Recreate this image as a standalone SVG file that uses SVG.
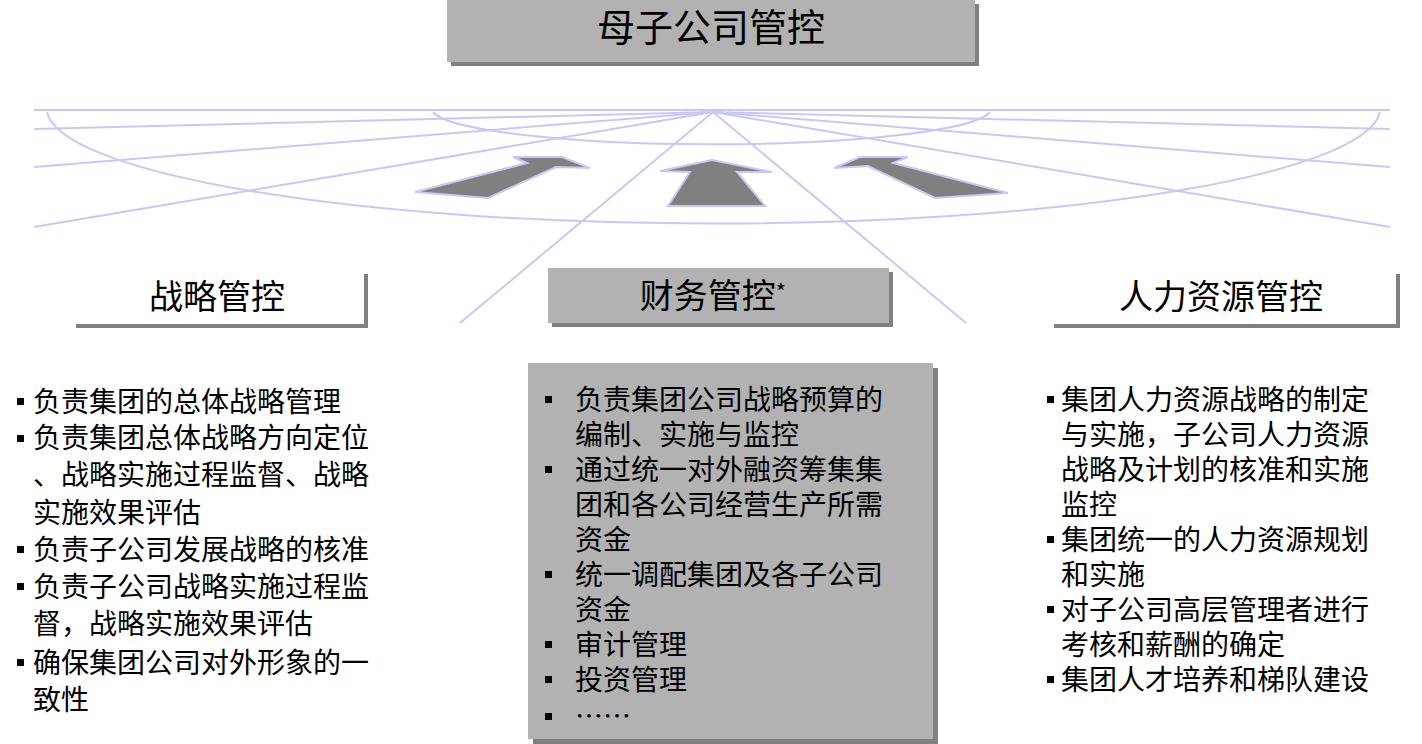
<svg xmlns="http://www.w3.org/2000/svg" width="1422" height="744" viewBox="0 0 1422 744">
<style>
text{font-family:"Noto Sans CJK SC","Liberation Sans",sans-serif;fill:#000}
.bg line{stroke:#c8c8f8;stroke-width:2;fill:none}
.arr{fill:#808080;stroke:#c8c8f8;stroke-width:2}
.sh{fill:#808080}
.t{font-size:28px}
.h{font-size:34px;text-anchor:middle}
.b{fill:#000}
</style>
<g class="bg" id="connectors">
<path d="M47,112 A667,116 0 0 0 1380,112" fill="none" stroke="#c8c8f8" stroke-width="2"/>
<path d="M433,112 A280,36 0 0 0 990,112" fill="none" stroke="#c8c8f8" stroke-width="2"/>
<line x1="34" y1="110" x2="1390" y2="110"/>
<line x1="713" y1="112" x2="34" y2="129"/>
<line x1="713" y1="112" x2="34" y2="167"/>
<line x1="713" y1="112" x2="34" y2="227"/>
<line x1="713" y1="112" x2="460" y2="323"/>
<line x1="713" y1="112" x2="1390" y2="129"/>
<line x1="713" y1="112" x2="1390" y2="167"/>
<line x1="713" y1="112" x2="1390" y2="227"/>
<line x1="713" y1="112" x2="966" y2="323"/>
<polygon class="arr" points="415,192 488,198 556,167 590,168 562,157 513,157 527,163"/>
<polygon class="arr" points="668,206 765,206 737,172 772,172 712,160 660,171 690,172"/>
<polygon class="arr" points="1008,193 935,198 868,166 834,168 860,157 908,157 893,163"/>
</g>
<g id="top">
<rect class="sh" x="451" y="4" width="528" height="62"/>
<rect x="447" y="0" width="528" height="62" fill="#b2b2b2"/>
<text x="711" y="41" font-size="38" text-anchor="middle">母子公司管控</text>
</g>
<g id="h1">
<rect class="sh" x="76" y="274" width="292" height="54"/>
<rect x="72" y="270" width="292" height="54" fill="#fff"/>
<text class="h" x="217" y="309">战略管控</text>
</g>
<g id="h2">
<rect class="sh" x="552" y="272" width="341" height="55"/>
<rect x="548" y="268" width="341" height="55" fill="#b2b2b2"/>
<text class="h" x="713" y="308">财务管控<tspan font-size="22" dy="-8">*</tspan></text>
</g>
<g id="h3">
<rect class="sh" x="1054" y="274" width="346" height="54"/>
<rect x="1050" y="270" width="346" height="54" fill="#fff"/>
<text class="h" x="1221" y="309">人力资源管控</text>
</g>
<g id="list1">
<g class="b"><rect x="17" y="398" width="7" height="7"/><rect x="17" y="435" width="7" height="7"/><rect x="17" y="546" width="7" height="7"/><rect x="17" y="583" width="7" height="7"/><rect x="17" y="659" width="7" height="7"/></g>
<text class="t" x="33" y="412">负责集团的总体战略管理</text>
<text class="t" x="33" y="448">负责集团总体战略方向定位</text>
<text class="t" x="33" y="485">、战略实施过程监督、战略</text>
<text class="t" x="33" y="523">实施效果评估</text>
<text class="t" x="33" y="560">负责子公司发展战略的核准</text>
<text class="t" x="33" y="597">负责子公司战略实施过程监</text>
<text class="t" x="33" y="634">督，战略实施效果评估</text>
<text class="t" x="33" y="673">确保集团公司对外形象的一</text>
<text class="t" x="33" y="710">致性</text>
</g>
<g id="list2">
<rect class="sh" x="533" y="368" width="405" height="376"/>
<rect x="528" y="363" width="405" height="376" fill="#b2b2b2"/>
<g class="b"><rect x="545" y="396" width="7" height="7"/><rect x="545" y="466" width="7" height="7"/><rect x="545" y="571" width="7" height="7"/><rect x="545" y="641" width="7" height="7"/><rect x="545" y="676" width="7" height="7"/><rect x="545" y="713" width="7" height="7"/></g>
<text class="t" x="575" y="410">负责集团公司战略预算的</text>
<text class="t" x="575" y="445">编制、实施与监控</text>
<text class="t" x="575" y="480">通过统一对外融资筹集集</text>
<text class="t" x="575" y="515">团和各公司经营生产所需</text>
<text class="t" x="575" y="550">资金</text>
<text class="t" x="575" y="585">统一调配集团及各子公司</text>
<text class="t" x="575" y="620">资金</text>
<text class="t" x="575" y="655">审计管理</text>
<text class="t" x="575" y="690">投资管理</text>
<text class="t" x="575" y="727">……</text>
</g>
<g id="list3">
<g class="b"><rect x="1047" y="396" width="7" height="7"/><rect x="1047" y="536" width="7" height="7"/><rect x="1047" y="606" width="7" height="7"/><rect x="1047" y="676" width="7" height="7"/></g>
<text class="t" x="1061" y="410">集团人力资源战略的制定</text>
<text class="t" x="1061" y="445">与实施，子公司人力资源</text>
<text class="t" x="1061" y="480">战略及计划的核准和实施</text>
<text class="t" x="1061" y="515">监控</text>
<text class="t" x="1061" y="550">集团统一的人力资源规划</text>
<text class="t" x="1061" y="585">和实施</text>
<text class="t" x="1061" y="620">对子公司高层管理者进行</text>
<text class="t" x="1061" y="655">考核和薪酬的确定</text>
<text class="t" x="1061" y="690">集团人才培养和梯队建设</text>
</g>
</svg>
